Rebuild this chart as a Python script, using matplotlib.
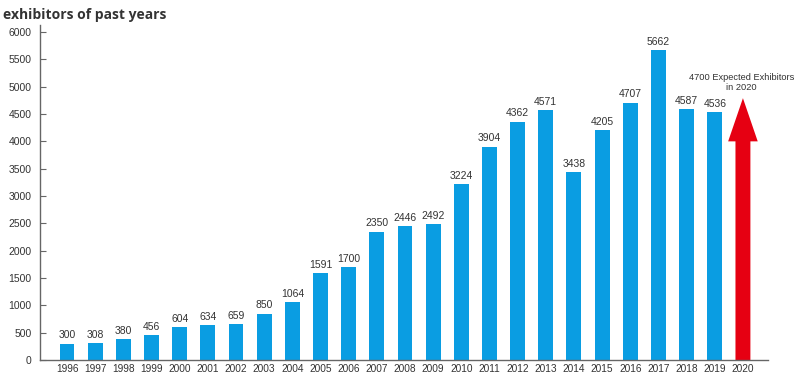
import matplotlib
matplotlib.use("Agg")
import matplotlib.pyplot as plt
from matplotlib import font_manager

years = [str(y) for y in range(1996, 2021)]
exhibitors = [300, 308, 380, 456, 604, 634, 659, 850, 1064, 1591, 1700, 2350, 2446,
              2492, 3224, 3904, 4362, 4571, 3438, 4205, 4707, 5662, 4587, 4536]
expected_2020 = 4700
yticks = list(range(0, 6001, 500))

names = {f.name for f in font_manager.fontManager.ttflist}
narrow = "Liberation Sans Narrow" if "Liberation Sans Narrow" in names else "Liberation Sans"

fig = plt.figure(figsize=(8, 3.79), dpi=100)
ax = fig.add_axes([0.05, 0.05, 0.91, 0.884])

blue = "#0a9de2"
red = "#e60012"
txt = "#333333"
axc = "#666666"

n = len(exhibitors)
xs = list(range(n))
bw = 0.53
ax.bar(xs, exhibitors, width=bw, color=blue, zorder=2)
for x, v in zip(xs, exhibitors):
    ax.text(x, v + 60, str(v), ha="center", va="bottom", fontsize=7.5,
            family=narrow, color=txt)

# 2020 expected arrow
xa = n
ax.arrow(xa, 0, 0, expected_2020 + 90, width=bw, head_width=1.05,
         head_length=790, length_includes_head=True, color=red, lw=0, zorder=2)
ax.text(xa - 0.05, 4900, f"{expected_2020} Expected Exhibitors\nin 2020", ha="center",
        va="bottom", fontsize=6.7, family=narrow, color=txt, linespacing=1.15,
        clip_on=False)

ax.set_xlim(-0.96, n + 0.89)
ax.set_ylim(0, 6128)
ax.set_xticks(list(range(n + 1)))
ax.set_xticklabels(years, family=narrow, fontsize=7.3, color=txt)
ax.set_yticks(yticks)
ax.set_yticklabels([str(t) for t in yticks], family=narrow, fontsize=7.5, color=txt)
ax.tick_params(axis="x", length=0, pad=3)
ax.tick_params(axis="y", direction="in", length=4, width=0.8, color=axc, pad=6)
for s in ["top", "right"]:
    ax.spines[s].set_visible(False)
for s in ["left", "bottom"]:
    ax.spines[s].set_color(axc)
    ax.spines[s].set_linewidth(1.0)

fig.text(0.004, 0.978, "exhibitors of past years", ha="left", va="top",
         fontsize=10, fontweight="bold", family="Open Sans", color=txt)

fig.savefig("out.png", dpi=100)
